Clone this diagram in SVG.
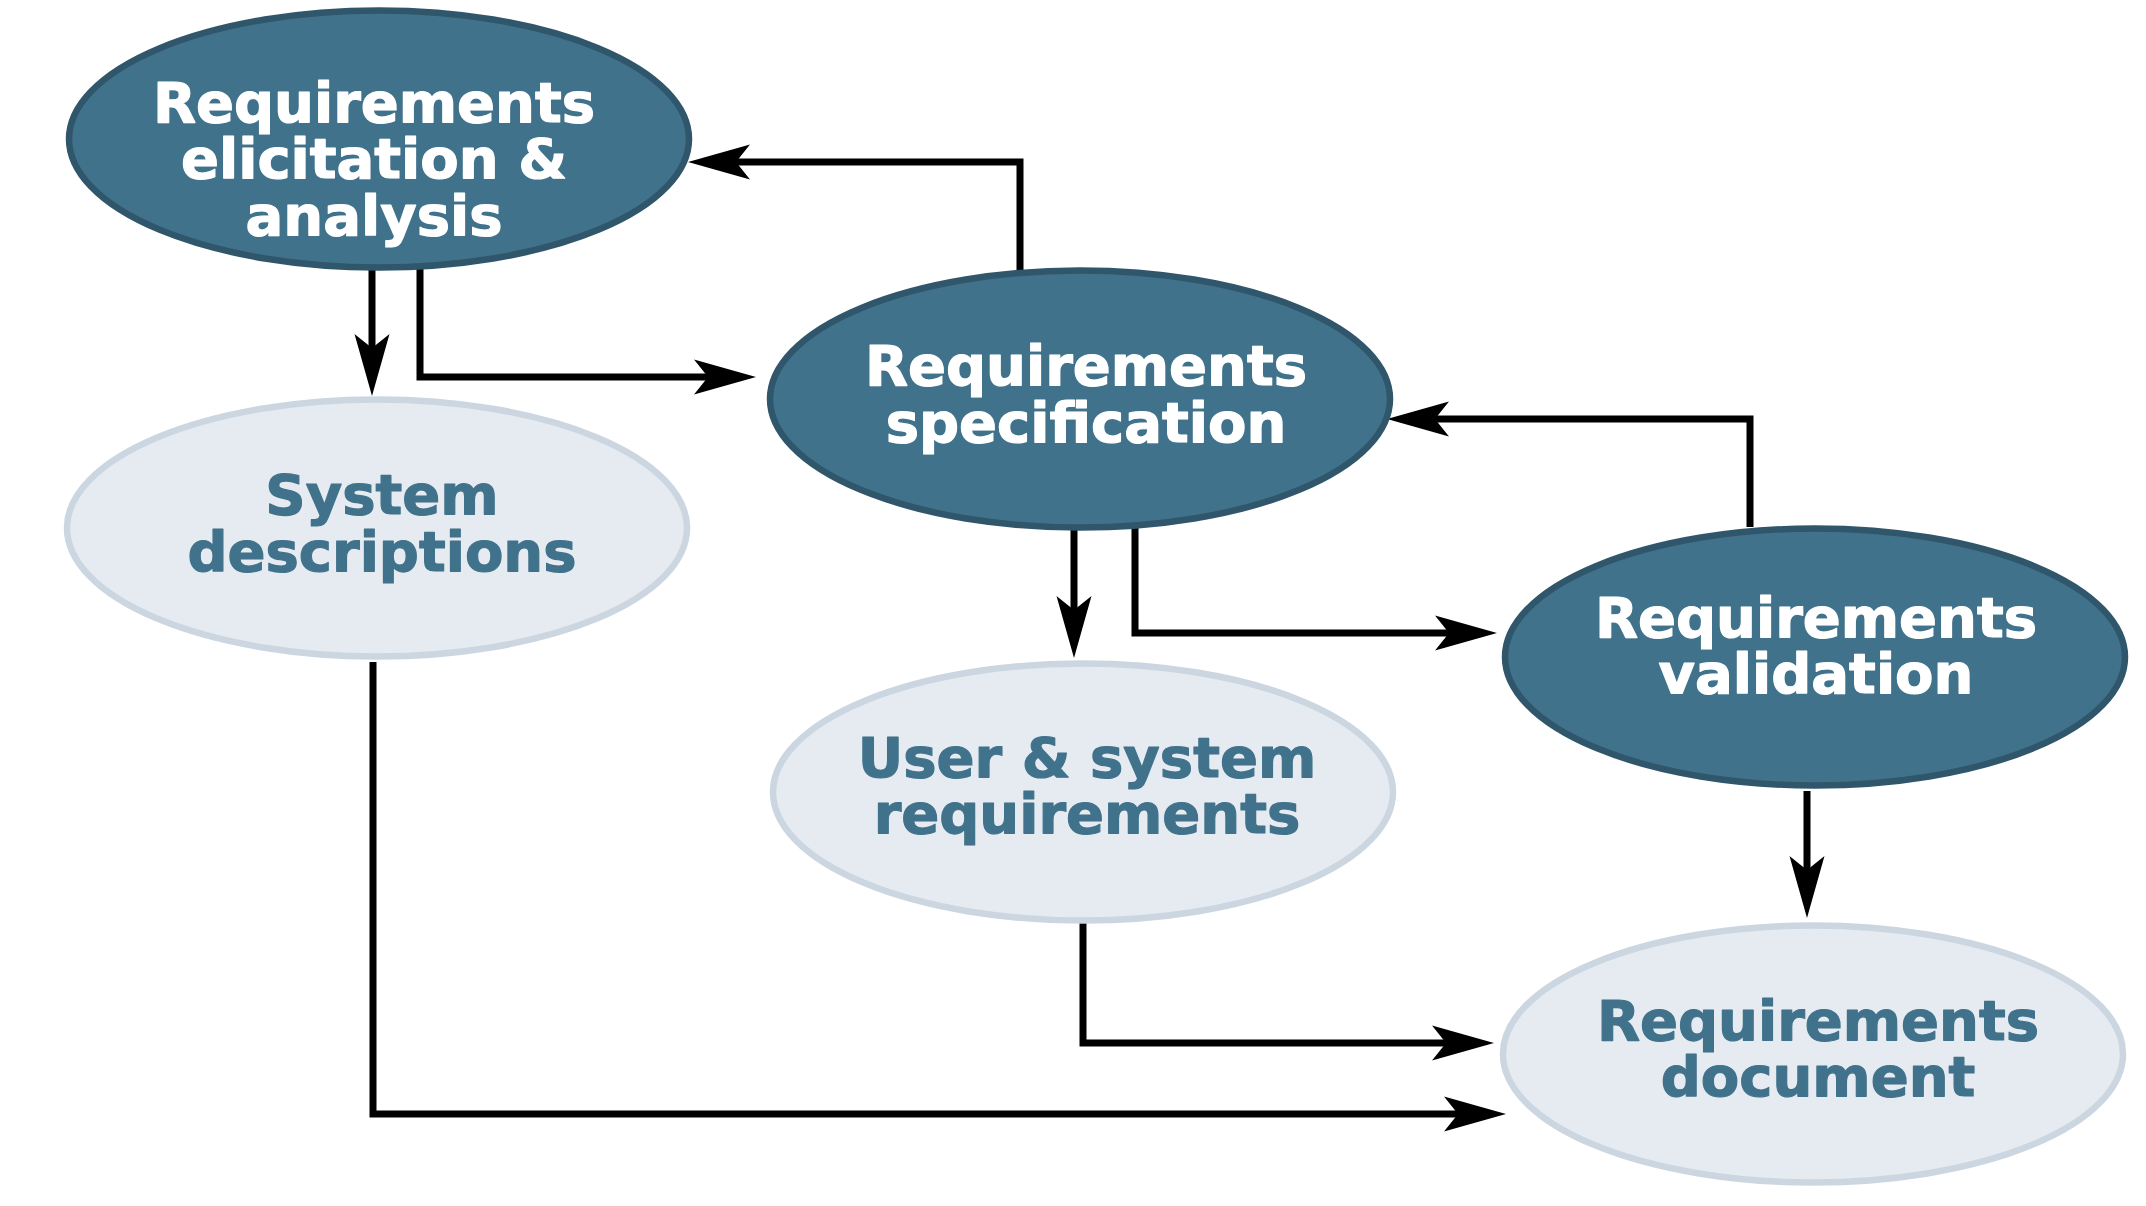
<svg xmlns="http://www.w3.org/2000/svg" width="2146" height="1206" viewBox="0 0 2146 1206">
<style>
.dark ellipse{fill:#41728c;stroke:#30566b;stroke-width:6.5}
.light ellipse{fill:#e5ebf0;stroke:#cbd6e1;stroke-width:6.5}
text{font-family:"DejaVu Sans","Liberation Sans",sans-serif;font-weight:bold;font-size:56px;text-anchor:middle;stroke-width:1.2;stroke-linejoin:round}
.dark text{fill:#ffffff;stroke:#ffffff}
.light text{fill:#41728c;stroke:#41728c}
.conn path{fill:none;stroke:#000;stroke-width:7;marker-end:url(#arr)}
</style>
<defs>
<marker id="arr" markerUnits="userSpaceOnUse" markerWidth="80" markerHeight="50" refX="0" refY="0" orient="auto" overflow="visible" viewBox="-30 -25 80 50">
<path d="M44,0 L-18,-17.5 L-4,0 L-18,17.5 Z" fill="#000"/>
</marker>
</defs>
<rect width="2146" height="1206" fill="#fff"/>
<g id="connectors" class="conn">
<path d="M372,268 V352"/>
<path d="M420,268 V377 H712"/>
<path d="M1020,270 V162 H732"/>
<path d="M1074,528 V614"/>
<path d="M1135,528 V633 H1453"/>
<path d="M1750,527 V419 H1431"/>
<path d="M1807,791 V874"/>
<path d="M1083,921 V1043 H1450"/>
<path d="M373,662 V1114 H1462"/>
</g>
<g id="elicitation" class="dark">
<ellipse cx="379" cy="139" rx="310" ry="128.5"/>
<text x="374" y="122">Requirements</text>
<text x="374" y="178">elicitation &amp;</text>
<text x="374" y="235">analysis</text>
</g>
<g id="specification" class="dark">
<ellipse cx="1080" cy="399" rx="310" ry="128.5"/>
<text x="1086" y="385">Requirements</text>
<text x="1086" y="442">specification</text>
</g>
<g id="validation" class="dark">
<ellipse cx="1815" cy="657" rx="310" ry="128.5"/>
<text x="1816" y="637">Requirements</text>
<text x="1816" y="693">validation</text>
</g>
<g id="system-descriptions" class="light">
<ellipse cx="377" cy="528" rx="310" ry="128.5"/>
<text x="382" y="514">System</text>
<text x="382" y="571">descriptions</text>
</g>
<g id="user-system-requirements" class="light">
<ellipse cx="1083" cy="792" rx="310" ry="128.5"/>
<text x="1087" y="777">User &amp; system</text>
<text x="1087" y="833">requirements</text>
</g>
<g id="requirements-document" class="light">
<ellipse cx="1813" cy="1054" rx="310" ry="128.5"/>
<text x="1818" y="1040">Requirements</text>
<text x="1818" y="1096">document</text>
</g>
</svg>
